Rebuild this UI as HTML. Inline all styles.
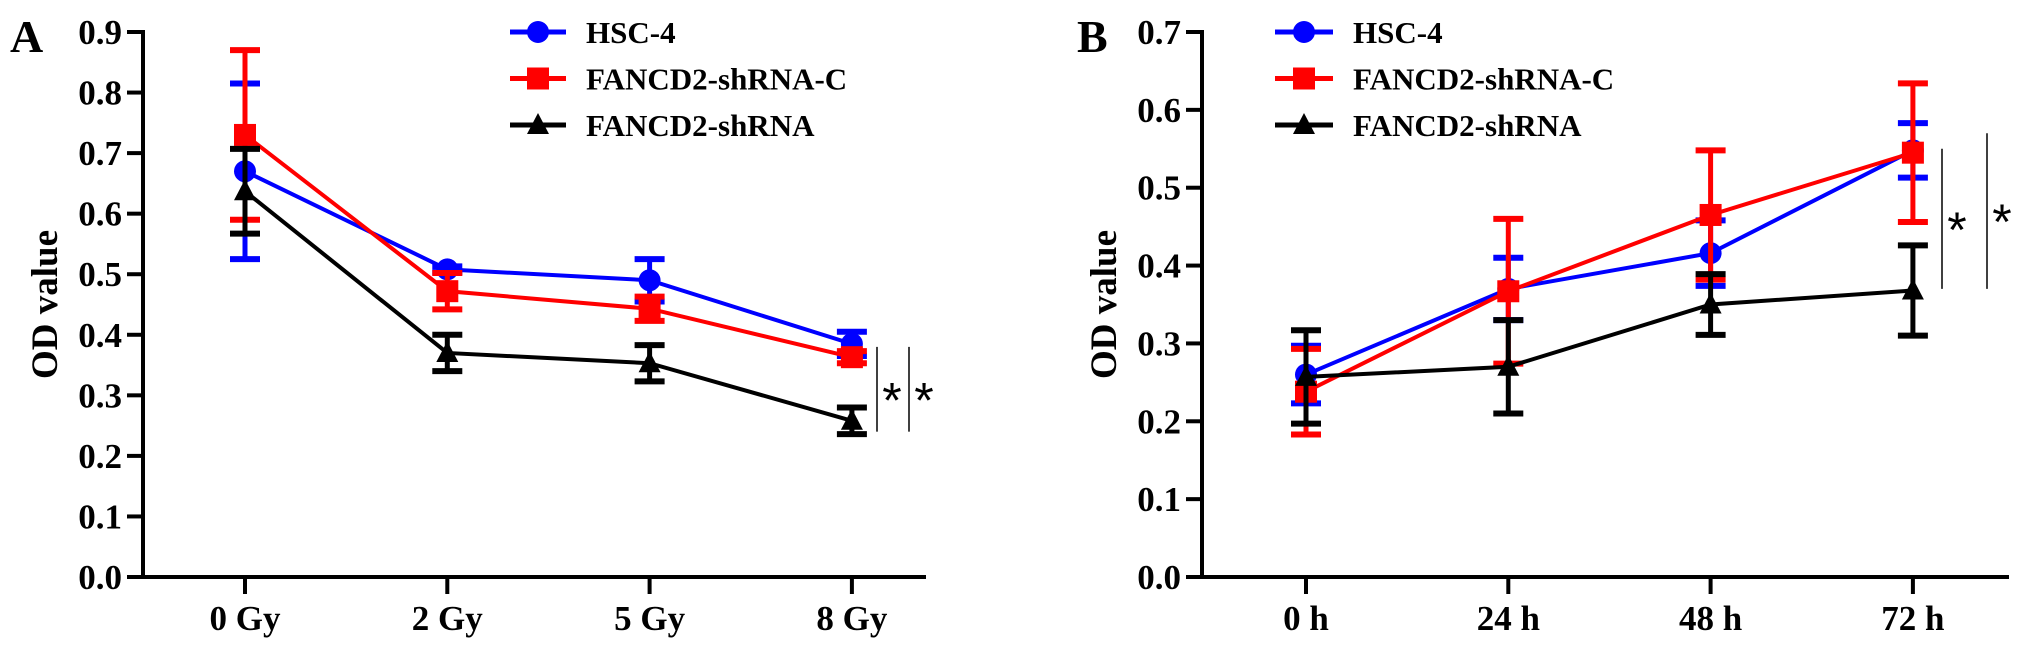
<!DOCTYPE html>
<html><head><meta charset="utf-8"><style>
html,body{margin:0;padding:0;background:#fff;}
svg{display:block;font-family:"Liberation Serif",serif;font-weight:bold;}
</style></head><body>
<svg id="chart" width="2031" height="651" viewBox="0 0 2031 651"></svg>
<script>
// Panel A data
const catsA = ["0 Gy","2 Gy","5 Gy","8 Gy"];
const hscA = [0.67,0.508,0.49,0.385];
const hscErrA = [0.145,0.005,0.035,0.02];
const ctrlA = [0.73,0.472,0.443,0.363];
const ctrlErrA = [0.14,0.03,0.02,0.01];
const shA = [0.637,0.37,0.353,0.258];
const shErrA = [0.07,0.03,0.03,0.022];
const ticksA = ["0.0","0.1","0.2","0.3","0.4","0.5","0.6","0.7","0.8","0.9"];
// Panel B data
const catsB = ["0 h","24 h","48 h","72 h"];
const hscB = [0.26,0.37,0.416,0.548];
const hscErrB = [0.037,0.04,0.042,0.035];
const ctrlB = [0.238,0.367,0.465,0.545];
const ctrlErrB = [0.055,0.093,0.083,0.089];
const shB = [0.257,0.27,0.35,0.368];
const shErrB = [0.06,0.06,0.039,0.058];
const ticksB = ["0.0","0.1","0.2","0.3","0.4","0.5","0.6","0.7"];
const legendLabels = ["HSC-4","FANCD2-shRNA-C","FANCD2-shRNA"];

const NS="http://www.w3.org/2000/svg";
const svg=document.getElementById('chart');
function mk(tag,attrs,parent){const e=document.createElementNS(NS,tag);for(const k in attrs)e.setAttribute(k,attrs[k]);(parent||svg).appendChild(e);return e;}

function marker(g,type,x,y,color){
  if(type==='circle') return mk('circle',{cx:x,cy:y,r:11,fill:color},g);
  if(type==='square') return mk('rect',{x:x-11,y:y-11,width:22,height:22,fill:color},g);
  return mk('polygon',{points:`${x},${y-12} ${x-11},${y+9} ${x+11},${y+9}`,fill:color},g);
}

function panel(p){
  const g=mk('g',{});
  
  
  const y=v=>p.y0-(v/p.ymax)*(p.y0-p.yTop);
  const x=i=>p.xs0+i*p.xstep;
  const L=mk('text',{x:p.letterX,y:52,'font-size':46},g);L.textContent=p.letter;
  
  const ya=mk('line',{x1:p.ax,y1:p.yTop-2,x2:p.ax,y2:p.y0+2,stroke:'#000','stroke-width':4},g);
  
  const xa=mk('line',{x1:p.ax-2,y1:p.y0,x2:p.axEnd,y2:p.y0,stroke:'#000','stroke-width':4},g);
  
  p.ticks.forEach((t,i)=>{
    const v=parseFloat(t);
    mk('line',{x1:p.ax-16,y1:y(v),x2:p.ax,y2:y(v),stroke:'#000','stroke-width':4},g);
    const tx=mk('text',{x:p.ax-21,y:y(v)+12,'font-size':35,'text-anchor':'end'},g);
    tx.textContent=t;
    
  });
  p.cats.forEach((c,i)=>{
    mk('line',{x1:x(i),y1:p.y0,x2:x(i),y2:p.y0+17,stroke:'#000','stroke-width':4},g);
    const tx=mk('text',{x:x(i),y:630,'font-size':35,'text-anchor':'middle'},g);
    tx.textContent=c;
    
  });
  const yl=mk('text',{x:0,y:0,'font-size':37,'text-anchor':'middle',transform:`translate(${p.ax-86},${(p.y0+p.yTop)/2}) rotate(-90)`},g);
  yl.textContent='OD value';
  
  const series=[
    {vals:p.s[0],err:p.e[0],color:'#0000ff',m:'circle',name:'series-hsc-4'},
    {vals:p.s[1],err:p.e[1],color:'#ff0000',m:'square',name:'series-fancd2-shrna-c'},
    {vals:p.s[2],err:p.e[2],color:'#000000',m:'tri',name:'series-fancd2-shrna'}];
  series.forEach(s=>{
    const sg=mk('g',{},g);
    
    s.vals.forEach((v,i)=>{
      const hi=y(v+s.err[i]),lo=y(v-s.err[i]);
      mk('line',{x1:x(i),y1:hi,x2:x(i),y2:lo,stroke:s.color,'stroke-width':5},sg);
      mk('line',{x1:x(i)-15,y1:hi,x2:x(i)+15,y2:hi,stroke:s.color,'stroke-width':6},sg);
      mk('line',{x1:x(i)-15,y1:lo,x2:x(i)+15,y2:lo,stroke:s.color,'stroke-width':6},sg);
    });
    mk('polyline',{points:s.vals.map((v,i)=>`${x(i)},${y(v)}`).join(' '),fill:'none',stroke:s.color,'stroke-width':4},sg);
    s.vals.forEach((v,i)=>{const m=marker(sg,s.m,x(i),y(v),s.color);});
  });
  const lg=mk('g',{},g);
  
  legendLabels.forEach((lab,i)=>{
    const ly=32+i*46.5, s=series[i];
    const eg=mk('g',{},lg);
    
    mk('line',{x1:p.legX,y1:ly,x2:p.legX+p.legW,y2:ly,stroke:s.color,'stroke-width':5},eg);
    marker(eg,s.m,p.legX+p.legW/2,ly,s.color);
    const t=mk('text',{x:p.legX+p.legW+20,y:ly+11,'font-size':31},eg);t.textContent=lab;
  });
  p.sig.forEach(sg=>{
    const l=mk('line',{x1:sg.x,y1:y(sg.top),x2:sg.x,y2:y(sg.bot),stroke:'#000','stroke-width':1.5},g);
    
    const st=mk('text',{x:sg.x+15,y:(y(sg.top)+y(sg.bot))/2+28,'font-size':50,'font-weight':'normal','font-family':'Liberation Sans, sans-serif','text-anchor':'middle'},g);
    st.textContent='*';
    
  });
}

panel({name:'panel-a',letter:'A',letterX:10,ax:143,axEnd:926,y0:577,yTop:32,ymax:0.9,xs0:245,xstep:202.3,
  cats:catsA,ticks:ticksA,s:[hscA,ctrlA,shA],e:[hscErrA,ctrlErrA,shErrA],legX:510,legW:56,
  sig:[{x:877,top:0.38,bot:0.24},{x:909,top:0.38,bot:0.24}]});
panel({name:'panel-b',letter:'B',letterX:1077,ax:1202,axEnd:2009,y0:577,yTop:32,ymax:0.7,xs0:1306,xstep:202.3,
  cats:catsB,ticks:ticksB,s:[hscB,ctrlB,shB],e:[hscErrB,ctrlErrB,shErrB],legX:1275,legW:58,
  sig:[{x:1942,top:0.55,bot:0.37},{x:1987,top:0.57,bot:0.37}]});
</script>
</body></html>
